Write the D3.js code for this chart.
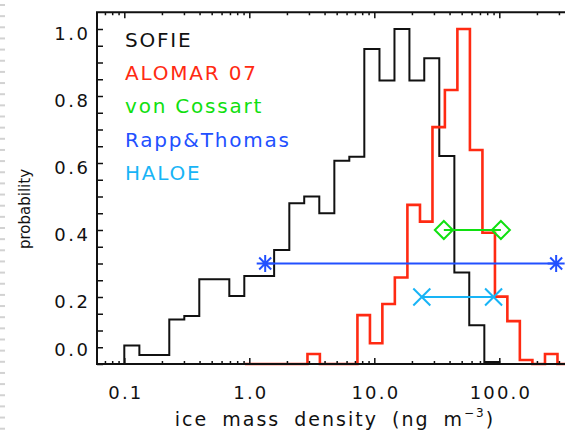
<!DOCTYPE html>
<html><head><meta charset="utf-8">
<script src="https://cdn.jsdelivr.net/npm/d3@7"></script>
<style>
body{margin:0;background:#fff}
svg{display:block}
text{font-family:"DejaVu Sans",sans-serif}
</style>
</head><body>
<svg id="chart" width="565" height="435"></svg>
<script>
// ---------- data ----------
const xTickValues = [0.1, 1, 10, 100];
const xTickLabels = ["0.1", "1.0", "10.0", "100.0"];
const yTickValues = [0.0, 0.2, 0.4, 0.6, 0.8, 1.0];
const yTickLabels = ["0.0", "0.2", "0.4", "0.6", "0.8", "1.0"];

// SOFIE histogram: bin edges (ng m^-3) and probabilities
const sofieEdges = [0.100, 0.132, 0.174, 0.229, 0.302, 0.398, 0.525, 0.692, 0.912, 1.20,
                    1.58, 2.09, 2.75, 3.63, 4.79, 6.31, 8.32, 11.0, 14.5, 19.1,
                    25.1, 33.1, 43.7, 57.5, 75.9, 100, 132, 174];
const sofieProb  = [0.055, 0.027, 0.027, 0.133, 0.143, 0.253, 0.253, 0.203, 0.263, 0.263,
                    0.34, 0.48, 0.50, 0.45, 0.607, 0.619, 0.94, 0.846, 1.0, 0.846,
                    0.913, 0.621, 0.273, 0.116, 0.006, 0, 0];

// ALOMAR 07 histogram
const alomarEdges = [0.923, 1.16, 1.46, 1.84, 2.32, 2.92, 3.67, 4.62, 5.82, 7.33,
                     9.23, 11.6, 14.6, 18.4, 23.2, 29.2, 36.7, 46.2, 58.2, 73.3,
                     92.3, 116, 146, 184, 232, 292, 367, 462];
const alomarProb  = [0, 0, 0, 0, 0, 0.03, 0, 0, 0, 0.146,
                     0.062, 0.179, 0.258, 0.475, 0.425, 0.707, 0.818, 1.0, 0.639, 0.392,
                     0.201, 0.128, 0.012, 0, 0.03, 0, 0];

// range markers
const vonCossartX = [36, 103];  const vonCossartY = [0.4, 0.4];
const rappThomasX = [1.34, 285]; const rappThomasY = [0.3, 0.3];
const haloeX = [24, 90];         const haloeY = [0.2, 0.2];

const legendLabels = ["SOFIE", "ALOMAR 07", "von Cossart", "Rapp&Thomas", "HALOE"];
const legendColors = ["#111111", "#ff2a12", "#10e010", "#2250ff", "#18b4f6"];

// ---------- layout ----------
const W = 565, H = 435;
const mLeft = 97, mTop = 12.25, mBottom = 364, mRight = 624.3;
const svg = d3.select("#chart");

const x = d3.scaleLog().domain([Math.pow(10, -1.2184), 1000]).range([mLeft, mRight]);
const y = d3.scaleLinear().domain([0, 1.05]).range([mBottom, mTop]);

// page-edge dashes at far left
const dashY = d3.range(5, H, 11.15);
svg.append("g").selectAll("line").data(dashY).join("line")
  .attr("x1", 0).attr("x2", 5).attr("y1", d => d).attr("y2", d => d)
  .attr("stroke", "#d2d2d2").attr("stroke-width", 2);

// ---------- histograms ----------
function stepPoints(edges, probs) {
  const pts = [[edges[0], 0]];
  probs.forEach((p, i) => pts.push([edges[i], p]));
  pts.push([edges[probs.length], probs[probs.length - 1]]);
  return pts;
}
const line = d3.line().x(d => x(d[0])).y(d => y(d[1])).curve(d3.curveStepAfter);

const plot = svg.append("g");
plot.append("path").attr("d", line(stepPoints(sofieEdges, sofieProb)))
  .attr("fill", "none").attr("stroke", legendColors[0]).attr("stroke-width", 2);
const alomarPts = stepPoints(alomarEdges, alomarProb).slice(1);
plot.append("path").attr("d", line(alomarPts))
  .attr("fill", "none").attr("stroke", legendColors[1]).attr("stroke-width", 2.6);

// ---------- range markers ----------
function rangeLine(xs, ys, color) {
  plot.append("line")
    .attr("x1", x(xs[0])).attr("x2", x(xs[1]))
    .attr("y1", y(ys[0])).attr("y2", y(ys[1]))
    .attr("stroke", color).attr("stroke-width", 2);
}
rangeLine(vonCossartX, vonCossartY, legendColors[2]);
rangeLine(rappThomasX, rappThomasY, legendColors[3]);
rangeLine(haloeX, haloeY, legendColors[4]);

plot.selectAll(".dia").data(vonCossartX.map((v, i) => [v, vonCossartY[i]])).join("path")
  .attr("class", "dia")
  .attr("transform", d => `translate(${x(d[0])},${y(d[1])})`)
  .attr("d", "M0,-9L9,0L0,9L-9,0Z")
  .attr("fill", "none").attr("stroke", legendColors[2]).attr("stroke-width", 2);
plot.selectAll(".ast").data(rappThomasX.map((v, i) => [v, rappThomasY[i]])).join("path")
  .attr("class", "ast")
  .attr("transform", d => `translate(${x(d[0])},${y(d[1])})`)
  .attr("d", "M-8.5,0H8.5M0,-8.5V8.5M-6,-6L6,6M-6,6L6,-6")
  .attr("fill", "none").attr("stroke", legendColors[3]).attr("stroke-width", 2);
plot.selectAll(".crs").data(haloeX.map((v, i) => [v, haloeY[i]])).join("path")
  .attr("class", "crs")
  .attr("transform", d => `translate(${x(d[0])},${y(d[1])})`)
  .attr("d", "M-8.5,-8.5L8.5,8.5M-8.5,8.5L8.5,-8.5")
  .attr("fill", "none").attr("stroke", legendColors[4]).attr("stroke-width", 2);

// ---------- axes ----------
const axisColor = "#111";
const minorX = x.ticks().filter(v => !xTickValues.some(m => Math.abs(m - v) < 1e-9));

function styleAxis(g) {
  g.select(".domain").remove();
  g.selectAll("line").attr("stroke", axisColor).attr("stroke-width", 1.5);
}
svg.append("g").attr("transform", `translate(0,${mBottom})`)
  .call(d3.axisBottom(x).tickValues(minorX).tickSize(-3).tickFormat(""))
  .call(styleAxis);
const xb = svg.append("g").attr("transform", `translate(0,${mBottom})`)
  .call(d3.axisBottom(x).tickValues(xTickValues).tickSize(-6)
        .tickFormat((d, i) => xTickLabels[i]))
  .call(styleAxis);
xb.selectAll("text").attr("y", 35.3).attr("dy", null)
  .attr("font-size", 18).attr("fill", "#111").attr("letter-spacing", "2.2px")
  .attr("dx", "1.1px");
svg.append("g").attr("transform", `translate(0,${mTop})`)
  .call(d3.axisTop(x).tickValues(minorX).tickSize(-3).tickFormat(""))
  .call(styleAxis);
svg.append("g").attr("transform", `translate(0,${mTop})`)
  .call(d3.axisTop(x).tickValues(xTickValues).tickSize(-6).tickFormat(""))
  .call(styleAxis);
const yMinor = y.ticks(21).filter(v => v < 1.04);
svg.append("g").attr("transform", `translate(${mLeft},0)`)
  .call(d3.axisLeft(y).tickValues(yMinor).tickSize(-6).tickFormat(""))
  .call(styleAxis);
const yl = svg.append("g").attr("transform", `translate(${mLeft},0)`)
  .call(d3.axisLeft(y).tickValues(yTickValues).tickSize(0)
        .tickFormat((d, i) => yTickLabels[i]))
  .call(styleAxis);
yl.selectAll("text").attr("x", -6.5).attr("dy", null)
  .attr("y", d => d === 0 ? -9 : 10)
  .attr("font-size", 18).attr("fill", "#111").attr("letter-spacing", "2.5px");

svg.append("path")
  .attr("d", `M${mRight},${mTop}H${mLeft}V${mBottom}H${mRight}`)
  .attr("fill", "none").attr("stroke", axisColor).attr("stroke-width", 2);

// ---------- titles ----------
const xt = svg.append("text").attr("x", 335).attr("y", 426).attr("text-anchor", "middle")
  .attr("font-size", 19).attr("fill", "#111")
  .attr("letter-spacing", "2px").attr("word-spacing", "6px");
xt.append("tspan").text("ice mass density (ng m");
xt.append("tspan").attr("dy", -9).attr("font-size", 12).text("−3");
xt.append("tspan").attr("dy", 9).text(")");

svg.append("text")
  .attr("transform", "translate(29.8,209) rotate(-90)")
  .attr("text-anchor", "middle").attr("font-size", 15).attr("fill", "#111")
  .text("probability");

// ---------- legend ----------
svg.append("g").selectAll("text").data(legendLabels).join("text")
  .attr("x", 125).attr("y", (d, i) => 46.7 + i * 33.33)
  .attr("font-size", 20).attr("letter-spacing", "1.8px")
  .attr("fill", (d, i) => legendColors[i])
  .text(d => d);
</script>
</body></html>
